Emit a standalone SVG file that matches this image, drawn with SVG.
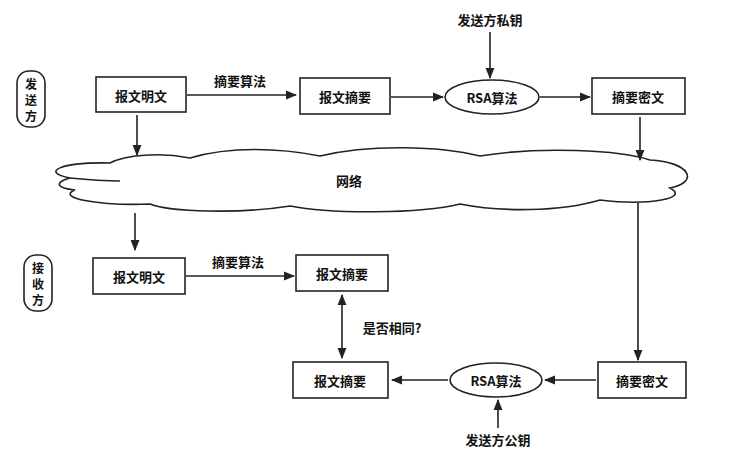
<svg xmlns="http://www.w3.org/2000/svg" width="735" height="466" viewBox="0 0 735 466">
<style>
text{font-family:"Noto Sans CJK SC","Noto Sans",sans-serif;font-weight:bold;font-size:13px;fill:#111;text-anchor:middle;dominant-baseline:central}
.v{font-size:12px}
.b{fill:#fff;stroke:#222;stroke-width:1.6}
.l{stroke:#222;stroke-width:1.6;fill:none}
</style>
<defs><marker id="a" viewBox="0 0 10 10" refX="9" refY="5" markerWidth="7" markerHeight="7" orient="auto-start-reverse"><path d="M0,1L10,5L0,9Z" fill="#222"/></marker></defs>
<rect width="735" height="466" fill="#fff"/>
<g id="cloud"><path class="b" d="M70,178 C40,172 60,162 110,163 C125,155 160,152 190,158 C230,146 280,148 320,156 C370,144 440,146 480,156 C540,146 620,150 650,160 C690,162 700,182 670,188 C690,198 650,206 600,200 C560,212 500,212 460,204 C420,214 330,214 290,206 C240,214 170,212 150,204 C100,206 55,198 75,190 C55,188 55,182 70,178 Z"/><path class="l" d="M70,178 C90,180 100,181 120,181"/><text x="349" y="180" font-size="16">网络</text></g>
<g id="s_label"><rect class="b" x="17" y="71" width="28" height="56" rx="12"/><text class="v" x="31" y="83">发</text><text class="v" x="31" y="99">送</text><text class="v" x="31" y="115">方</text></g>
<g id="r_label"><rect class="b" x="24" y="255" width="28" height="56" rx="12"/><text class="v" x="38" y="267">接</text><text class="v" x="38" y="283">收</text><text class="v" x="38" y="299">方</text></g>
<g id="s1"><rect class="b" x="96" y="77" width="90" height="35"/><text x="141" y="95">报文明文</text></g>
<g id="s2"><rect class="b" x="300" y="78" width="90" height="36"/><text x="345" y="96">报文摘要</text></g>
<g id="s3"><ellipse class="b" cx="492" cy="97" rx="47" ry="17"/><text x="492" y="97">RSA算法</text></g>
<g id="s4"><rect class="b" x="592" y="78" width="93" height="36"/><text x="638" y="96">摘要密文</text></g>
<g id="skey"><text x="490" y="19">发送方私钥</text></g>
<g id="r1"><rect class="b" x="93" y="258" width="92" height="36"/><text x="139" y="276">报文明文</text></g>
<g id="r2"><rect class="b" x="296" y="255" width="92" height="36"/><text x="342" y="273">报文摘要</text></g>
<g id="r3"><rect class="b" x="293" y="362" width="95" height="36"/><text x="340" y="380">报文摘要</text></g>
<g id="r4"><ellipse class="b" cx="496" cy="380" rx="46" ry="17"/><text x="496" y="380">RSA算法</text></g>
<g id="r5"><rect class="b" x="598" y="362" width="88" height="36"/><text x="642" y="380">摘要密文</text></g>
<g id="rkey"><text x="498" y="439">发送方公钥</text></g>
<g id="connectors">
<path class="l" d="M187,95H296" marker-end="url(#a)"/><text x="240" y="80">摘要算法</text>
<path class="l" d="M391,97H443" marker-end="url(#a)"/>
<path class="l" d="M540,97H590" marker-end="url(#a)"/>
<path class="l" d="M490,32V78" marker-end="url(#a)"/>
<path class="l" d="M137,115V155" marker-end="url(#a)"/>
<path class="l" d="M640,117V160" marker-end="url(#a)"/>
<path class="l" d="M135,213V250" marker-end="url(#a)"/>
<path class="l" d="M638,203V360" marker-end="url(#a)"/>
<path class="l" d="M186,276H294" marker-end="url(#a)"/><text x="238" y="261">摘要算法</text>
<path class="l" d="M342,295V358" marker-start="url(#a)" marker-end="url(#a)"/><text x="392" y="327">是否相同?</text>
<path class="l" d="M448,380H392" marker-end="url(#a)"/>
<path class="l" d="M596,380H545" marker-end="url(#a)"/>
<path class="l" d="M498,428V400" marker-end="url(#a)"/>
</g>
</svg>
